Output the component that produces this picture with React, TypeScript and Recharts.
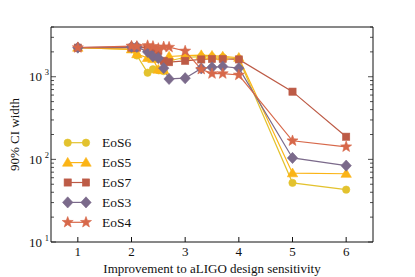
import React from "react";
import { LineChart, Line, XAxis, YAxis, Legend } from "recharts";

// improvement factor over aLIGO design sensitivity
const improvement = [1, 2, 2.1, 2.3, 2.4, 2.5, 2.6, 2.7, 3, 3.3, 3.5, 3.7, 4, 5, 6];

const eos6 = [2250, 2150, 1810, 1120, 1230, 1200, 1170, 1550, 1720, 1750, 1740, 1720, 1640, 52, 43];
const eos5 = [2250, 2150, 1880, 1690, 1640, 1220, 1200, 1760, 1800, 1830, 1800, 1760, 1700, 68, 67];
const eos7 = [2250, 2250, 2250, 2250, 2150, 2050, 1560, 1500, 1560, 1620, 1640, 1640, 1620, 660, 188];
const eos3 = [2250, 2300, 2300, 2000, 1760, 1680, 1270, 940, 960, 1260, 1300, 1330, 1270, 104, 84];
const eos4 = [2250, 2350, 2330, 2380, 2330, 2200, 2300, 2280, 2050, 1230, 1090, 1090, 1050, 168, 142];

const xTicks = [1, 2, 3, 4, 5, 6];
const yTicks = [
  10, 20, 30, 40, 50, 60, 70, 80, 90,
  100, 200, 300, 400, 500, 600, 700, 800, 900,
  1000, 2000, 3000, 4000,
];

const SERIF = "'Liberation Serif', 'DejaVu Serif', serif";

type Shape = "circle" | "triangle" | "square" | "diamond" | "star";

const SERIES: { key: string; name: string; color: string; shape: Shape; values: number[] }[] = [
  { key: "eos6", name: "EoS6", color: "#e3c22e", shape: "circle", values: eos6 },
  { key: "eos5", name: "EoS5", color: "#fbb416", shape: "triangle", values: eos5 },
  { key: "eos7", name: "EoS7", color: "#bd5b46", shape: "square", values: eos7 },
  { key: "eos3", name: "EoS3", color: "#7b6a8b", shape: "diamond", values: eos3 },
  { key: "eos4", name: "EoS4", color: "#d7684a", shape: "star", values: eos4 },
];

const data = improvement.map((x, i) => {
  const row: Record<string, number> = { x };
  SERIES.forEach((s) => (row[s.key] = s.values[i]));
  return row;
});

function starPoints(cx: number, cy: number, ro: number, ri: number) {
  const pts: string[] = [];
  for (let k = 0; k < 10; k++) {
    const r = k % 2 === 0 ? ro : ri;
    const a = -Math.PI / 2 + (k * Math.PI) / 5;
    pts.push(`${cx + r * Math.cos(a)},${cy + r * Math.sin(a)}`);
  }
  return pts.join(" ");
}

function Marker({ shape, cx, cy, color }: { shape: Shape; cx: number; cy: number; color: string }) {
  const common = { fill: color, stroke: color, strokeWidth: 0.6 };
  switch (shape) {
    case "circle":
      return <circle cx={cx} cy={cy} r={3.7} {...common} />;
    case "triangle":
      return (
        <polygon
          points={`${cx},${cy - 5.2} ${cx + 5.2},${cy + 3.6} ${cx - 5.2},${cy + 3.6}`}
          {...common}
        />
      );
    case "square":
      return <rect x={cx - 3.6} y={cy - 3.6} width={7.2} height={7.2} {...common} />;
    case "diamond":
      return (
        <polygon
          points={`${cx},${cy - 5.6} ${cx + 5.2},${cy} ${cx},${cy + 5.6} ${cx - 5.2},${cy}`}
          {...common}
        />
      );
    default:
      return <polygon points={starPoints(cx, cy, 5.8, 2.4)} {...common} />;
  }
}

function LeftTick(props: any) {
  const { x, y, payload } = props;
  const v = payload.value;
  const exp = Math.round(Math.log10(v));
  const major = Math.abs(Math.log10(v) - exp) < 1e-6;
  return (
    <g>
      <line x1={x} x2={x + (major ? 5 : 3)} y1={y} y2={y} stroke="#222" strokeWidth={0.8} />
      {major && (
        <text x={x - 9} y={y + 4.5} textAnchor="end" fontFamily={SERIF} fontSize={13} fill="#111">
          10
          <tspan x={x - 2} dy={-6} fontSize={8.5} textAnchor="end">
            {exp}
          </tspan>
        </text>
      )}
    </g>
  );
}

function RightTick(props: any) {
  const { x, y, payload } = props;
  const v = payload.value;
  const exp = Math.round(Math.log10(v));
  const major = Math.abs(Math.log10(v) - exp) < 1e-6;
  return <line x1={x} x2={x - (major ? 5 : 3)} y1={y} y2={y} stroke="#222" strokeWidth={0.8} />;
}

function XTitle(props: any) {
  const { viewBox } = props;
  return (
    <text
      x={viewBox.x + viewBox.width / 2}
      y={viewBox.y + 31}
      textAnchor="middle"
      fontFamily={SERIF}
      fontSize={13}
      fill="#111"
    >
      Improvement to aLIGO design sensitivity
    </text>
  );
}

function YTitle(props: any) {
  const { viewBox } = props;
  const cx = 14;
  const cy = viewBox.y + viewBox.height / 2;
  return (
    <text
      x={cx}
      y={cy}
      transform={`rotate(-90, ${cx}, ${cy})`}
      textAnchor="middle"
      dominantBaseline="central"
      fontFamily={SERIF}
      fontSize={13}
      fill="#111"
    >
      90% CI width
    </text>
  );
}

function LegendBox() {
  return (
    <svg width={90} height={104}>
      {SERIES.map((s, i) => {
        const y = 10.7 + i * 19.9;
        return (
          <g key={s.key}>
            <line x1={7.7} x2={26} y1={y} y2={y} stroke={s.color} strokeWidth={1.2} />
            <Marker shape={s.shape} cx={7.7} cy={y} color={s.color} />
            <Marker shape={s.shape} cx={26} cy={y} color={s.color} />
            <text x={42} y={y + 4.5} fontFamily={SERIF} fontSize={13.5} fill="#111">
              {s.name}
            </text>
          </g>
        );
      })}
    </svg>
  );
}

export default function App() {
  return (
    <div style={{ position: "absolute", left: 0, top: 0, width: 415, height: 277, background: "#fff" }}>
      <LineChart width={415} height={277} data={data} margin={{ top: 26, right: 40, left: 11, bottom: 0 }}>
        <XAxis
          dataKey="x"
          type="number"
          domain={[0.5, 6.5]}
          ticks={xTicks}
          height={35}
          stroke="#111"
          tickSize={-5}
          tickMargin={10}
          tick={{ fill: "#111", fontSize: 13, fontFamily: SERIF }}
          label={<XTitle />}
        />
        <XAxis
          xAxisId="top"
          orientation="top"
          type="number"
          domain={[0.5, 6.5]}
          allowDataOverflow
          ticks={xTicks}
          height={1}
          stroke="#111"
          tickSize={-5}
          tick={false}
        />
        <YAxis
          type="number"
          scale="log"
          domain={[10, 4000]}
          allowDataOverflow
          ticks={yTicks}
          interval={0}
          width={40}
          stroke="#111"
          tickLine={false}
          tickSize={0}
          tickMargin={0}
          tick={<LeftTick />}
          label={<YTitle />}
        />
        <YAxis
          yAxisId="right"
          orientation="right"
          type="number"
          scale="log"
          domain={[10, 4000]}
          allowDataOverflow
          ticks={yTicks}
          interval={0}
          width={2}
          stroke="#111"
          tickLine={false}
          tickSize={0}
          tickMargin={0}
          tick={<RightTick />}
        />
        <Legend
          layout="vertical"
          align="center"
          verticalAlign="middle"
          wrapperStyle={{ left: 60, top: 132, width: 90 }}
          content={() => <LegendBox />}
        />
        {SERIES.map((s) => (
          <Line
            key={s.key}
            dataKey={s.key}
            name={s.name}
            stroke={s.color}
            strokeWidth={1.2}
            isAnimationActive={false}
            dot={(p: any) => (
              <Marker key={`${s.key}-${p.index}`} shape={s.shape} cx={p.cx} cy={p.cy} color={s.color} />
            )}
            activeDot={false}
          />
        ))}
      </LineChart>
    </div>
  );
}
